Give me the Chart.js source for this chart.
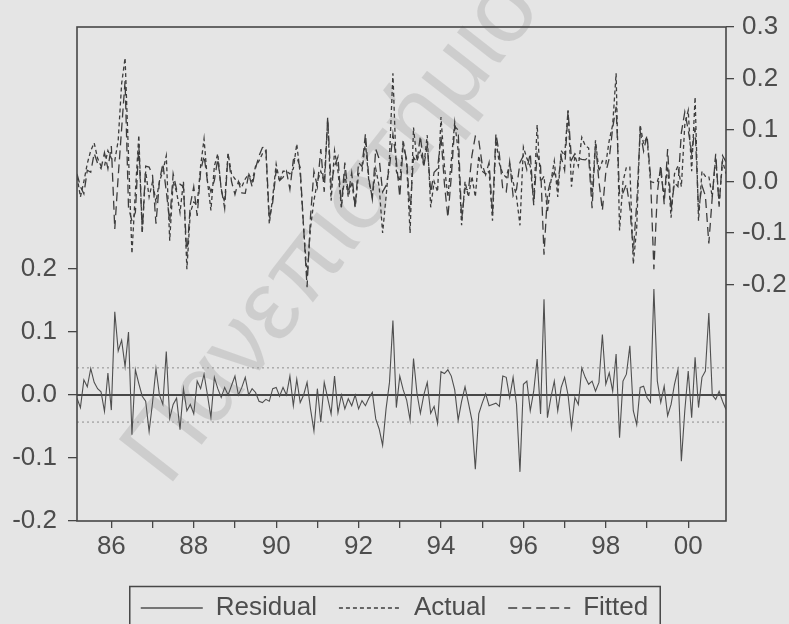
<!DOCTYPE html>
<html>
<head>
<meta charset="utf-8">
<script src="https://cdn.jsdelivr.net/npm/chart.js@4.4.1/dist/chart.umd.min.js"></script>
<style>
  html, body { margin: 0; padding: 0; background: #e5e5e5; }
  #wrap { width: 789px; height: 624px; position: relative; overflow: hidden; }
  canvas { display: block; }
</style>
</head>
<body>
<div id="wrap"><canvas id="chart" width="789" height="624"></canvas></div>
<script>
// Monthly sample 1985M03 - 2000M12
const startYear = 1985;
const startMonth = 3;

// Residual (left axis)
const residual = [
  -0.005, -0.020, 0.024, 0.013, 0.042, 0.020, 0.010, 0.005, -0.026, 0.035,
  -0.024, 0.132, 0.070, 0.087, 0.045, 0.100, -0.063, 0.040, 0.018, -0.002,
  -0.010, -0.058, -0.012, 0.042, 0.000, -0.015, 0.069, -0.037, -0.015, -0.005,
  -0.055, 0.010, -0.025, -0.015, -0.030, 0.022, 0.010, 0.033, 0.000, -0.036,
  0.028, 0.010, -0.004, 0.012, 0.000, 0.015, 0.030, 0.000, 0.012, 0.028,
  0.000, 0.010, 0.004, -0.010, -0.012, -0.007, -0.010, 0.010, 0.012, -0.002,
  0.012, 0.000, 0.030, -0.017, 0.025, -0.012, 0.000, 0.020, -0.022, -0.057,
  0.010, -0.043, 0.020, -0.005, -0.030, 0.030, -0.028, 0.000, -0.022, -0.006,
  -0.017, 0.000, -0.022, -0.009, -0.017, -0.005, 0.004, -0.038, -0.054, -0.080,
  -0.022, 0.020, 0.118, -0.020, 0.030, 0.008, -0.008, -0.040, 0.058, 0.003,
  -0.029, 0.000, 0.020, -0.029, -0.018, -0.045, 0.037, 0.034, 0.040, 0.030,
  0.008, -0.040, -0.010, 0.013, -0.013, -0.040, -0.118, -0.030, -0.013, 0.002,
  -0.017, -0.015, -0.013, -0.018, 0.030, 0.028, -0.004, 0.028, -0.015, -0.122,
  0.017, 0.022, -0.025, 0.006, 0.057, -0.030, 0.152, -0.036, -0.004, 0.022,
  -0.025, 0.012, 0.028, 0.000, -0.052, -0.004, -0.015, 0.043, 0.028, 0.017,
  0.022, 0.006, 0.020, 0.096, 0.017, 0.035, 0.006, 0.065, -0.068, 0.022,
  0.033, 0.078, -0.025, -0.047, 0.012, 0.014, -0.004, -0.012, 0.168, 0.022,
  -0.012, 0.014, -0.033, -0.015, 0.017, 0.040, -0.105, -0.025, 0.038, -0.036,
  0.060, -0.020, 0.028, 0.038, 0.130, 0.000, -0.007, 0.006, -0.010, -0.023
];

// Actual (right axis)
const actual = [
  0.010, -0.030, 0.000, 0.035, 0.060, 0.075, 0.045, 0.030, 0.030, 0.060,
  0.045, 0.040, 0.080, 0.190, 0.240, 0.050, -0.140, -0.020, 0.090, -0.100,
  0.020, -0.030, 0.000, -0.040, 0.000, 0.020, 0.050, -0.115, 0.000, -0.020,
  -0.060, 0.000, -0.170, -0.060, -0.040, -0.045, 0.030, 0.083, 0.000, -0.056,
  0.030, 0.054, -0.017, -0.040, 0.054, 0.015, 0.005, 0.000, -0.010, 0.005,
  0.015, 0.000, 0.030, 0.040, 0.054, 0.060, -0.082, -0.030, 0.034, 0.000,
  0.020, 0.020, 0.015, 0.025, 0.073, 0.015, -0.090, -0.185, -0.090, -0.037,
  0.000, 0.020, 0.000, 0.120, -0.037, 0.060, 0.020, -0.050, 0.015, -0.030,
  0.000, -0.050, 0.015, 0.020, 0.076, 0.000, -0.030, 0.025, -0.010, -0.100,
  -0.030, 0.047, 0.210, 0.020, 0.000, 0.080, 0.035, -0.100, 0.105, 0.040,
  0.060, 0.030, 0.090, -0.050, 0.000, -0.020, 0.125, 0.030, -0.030, 0.040,
  0.115, 0.060, -0.085, 0.000, -0.030, 0.010, -0.030, 0.050, 0.020, 0.015,
  0.020, -0.076, 0.080, 0.035, 0.015, 0.008, 0.034, 0.000, -0.030, -0.085,
  0.067, 0.045, 0.030, -0.040, 0.110, 0.000, 0.010, -0.060, 0.000, 0.040,
  -0.030, 0.060, 0.050, 0.138, -0.010, 0.050, 0.030, 0.086, 0.070, 0.065,
  -0.030, 0.080, 0.020, 0.040, 0.035, 0.080, 0.110, 0.210, -0.095, 0.000,
  0.028, 0.028, -0.160, -0.090, 0.110, 0.073, 0.086, 0.000, -0.002, 0.000,
  0.020, -0.030, 0.030, -0.070, 0.015, 0.030, -0.010, 0.110, 0.138, 0.020,
  0.164, -0.076, 0.020, 0.010, 0.010, -0.030, 0.047, -0.043, 0.040, 0.015
];

// Fitted (right axis)
const fitted = [
  0.015, -0.010, -0.024, 0.022, 0.018, 0.055, 0.035, 0.025, 0.056, 0.025,
  0.069, -0.092, 0.010, 0.103, 0.195, -0.050, -0.077, -0.060, 0.072, -0.098,
  0.030, 0.028, 0.012, -0.082, 0.000, 0.035, -0.019, -0.078, 0.015, -0.015,
  -0.005, -0.010, -0.145, -0.045, -0.010, -0.067, 0.020, 0.050, 0.000, -0.020,
  0.002, 0.044, -0.013, -0.052, 0.054, 0.000, -0.025, 0.000, -0.022, -0.023,
  0.015, -0.010, 0.026, 0.050, 0.066, 0.067, -0.072, -0.040, 0.022, 0.002,
  0.008, 0.020, -0.015, 0.042, 0.048, 0.027, -0.090, -0.205, -0.068, 0.020,
  -0.010, 0.063, -0.020, 0.125, -0.007, 0.030, 0.048, -0.050, 0.037, -0.024,
  0.017, -0.050, 0.037, 0.029, 0.093, 0.005, -0.034, 0.063, 0.044, -0.020,
  -0.008, 0.027, 0.092, 0.040, -0.030, 0.072, 0.043, -0.060, 0.047, 0.037,
  0.089, 0.030, 0.070, -0.021, 0.018, 0.025, 0.088, -0.004, -0.070, 0.010,
  0.107, 0.100, -0.075, -0.013, -0.017, 0.050, 0.088, 0.080, 0.033, 0.013,
  0.037, -0.061, 0.093, 0.053, -0.015, -0.020, 0.038, -0.028, -0.015, 0.037,
  0.050, 0.023, 0.055, -0.046, 0.053, 0.030, -0.142, -0.024, 0.004, 0.018,
  -0.005, 0.048, 0.022, 0.138, 0.042, 0.054, 0.045, 0.043, 0.042, 0.048,
  -0.052, 0.074, 0.000, -0.056, 0.018, 0.045, 0.104, 0.145, -0.027, -0.022,
  -0.005, -0.050, -0.135, -0.043, 0.098, 0.059, 0.090, 0.012, -0.170, -0.022,
  0.032, -0.044, 0.063, -0.055, -0.002, -0.010, 0.095, 0.135, 0.100, 0.056,
  0.104, -0.056, -0.008, -0.028, -0.120, -0.030, 0.054, -0.049, 0.050, 0.038
];

// Standard error band drawn around the residual zero line
const residualSE = 0.043;

// Axis ticks
const yearTicks  = [1986, 1987, 1988, 1989, 1990, 1991, 1992, 1993, 1994, 1995, 1996, 1997, 1998, 1999, 2000];
const yearLabels = ['86', '', '88', '', '90', '', '92', '', '94', '', '96', '', '98', '', '00'];
const leftTicks  = [-0.2, -0.1, 0.0, 0.1, 0.2];
const rightTicks = [-0.2, -0.1, 0.0, 0.1, 0.2, 0.3];

// ---- build the point lists on a decimal-year x axis ----
const toYear = i => startYear + (startMonth - 1 + i) / 12;
const asPoints = arr => arr.map((v, i) => ({ x: toYear(i), y: v }));
const xMin = toYear(0);
const xMax = toYear(residual.length - 1);
const flat = v => [{ x: xMin, y: v }, { x: xMax, y: v }];

const INK = '#474747';
const TEXT = '#4d4d4d';
const FONT = "'Liberation Sans', Arial, sans-serif";

const frame = {
  id: 'frame',
  afterLayout(chart) {
    // drop the legend row a little lower
    const lg = chart.legend;
    if (lg) { lg.top += 7; lg.bottom += 7; }
  },
  beforeDatasetsDraw(chart) {
    // faint diagonal stamp across the page
    const ctx = chart.ctx;
    ctx.save();
    ctx.translate(168, 488);
    ctx.rotate(-52 * Math.PI / 180);
    ctx.font = `100px ${FONT}`;
    ctx.fillStyle = 'rgba(0,0,0,0.10)';
    ctx.textBaseline = 'alphabetic';
    ctx.fillText('Πανεπιστήμιο', 0, 0);
    ctx.restore();
  },
  afterDatasetsDraw(chart) {
    const { ctx, chartArea: a } = chart;
    ctx.save();
    ctx.strokeStyle = INK;
    ctx.lineWidth = 1.6;
    ctx.strokeRect(a.left, a.top, a.right - a.left, a.bottom - a.top);
    ctx.restore();
  },
  afterDraw(chart) {
    const lg = chart.legend;
    if (!lg || !lg.legendHitBoxes || !lg.legendHitBoxes.length) return;
    const hb = lg.legendHitBoxes;
    const left = Math.min(...hb.map(h => h.left)) - 11;
    const right = Math.max(...hb.map(h => h.left + h.width)) + 12;
    const top = hb[0].top - 8.5;
    const ctx = chart.ctx;
    ctx.save();
    ctx.strokeStyle = INK;
    ctx.lineWidth = 1.5;
    ctx.strokeRect(left, top, right - left, 80);
    ctx.restore();
  }
};

new Chart(document.getElementById('chart'), {
  type: 'line',
  data: {
    datasets: [
      { label: 'Residual', data: asPoints(residual), yAxisID: 'yL',
        borderColor: '#4f4f4f', borderWidth: 1.1, pointRadius: 0, tension: 0 },
      { label: 'Actual', data: asPoints(actual), yAxisID: 'yR',
        borderColor: '#3d3d3d', borderWidth: 1.3, borderDash: [4, 3], pointRadius: 0, tension: 0 },
      { label: 'Fitted', data: asPoints(fitted), yAxisID: 'yR',
        borderColor: '#3d3d3d', borderWidth: 1.3, borderDash: [9, 5], pointRadius: 0, tension: 0 },
      { label: 'zero', data: flat(0), yAxisID: 'yL',
        borderColor: INK, borderWidth: 1.8, pointRadius: 0 },
      { label: '+se', data: flat(residualSE), yAxisID: 'yL',
        borderColor: '#8c8c8c', borderWidth: 1, borderDash: [2, 3], pointRadius: 0 },
      { label: '-se', data: flat(-residualSE), yAxisID: 'yL',
        borderColor: '#8c8c8c', borderWidth: 1, borderDash: [2, 3], pointRadius: 0 }
    ]
  },
  options: {
    responsive: false,
    animation: false,
    devicePixelRatio: 1,
    events: [],
    layout: { padding: { top: 27, left: 0, right: 0, bottom: 0 } },
    scales: {
      x: {
        type: 'linear',
        min: xMin,
        max: xMax,
        afterBuildTicks: s => { s.ticks = yearTicks.map(v => ({ value: v })); },
        afterFit: s => { s.height = 45; },
        ticks: {
          autoSkip: false, maxRotation: 0, padding: 3,
          color: TEXT, font: { family: FONT, size: 26 },
          callback: (v, i) => yearLabels[i]
        },
        grid: { drawOnChartArea: false, drawTicks: true, tickLength: 7, color: INK, lineWidth: 1.3 },
        border: { display: false }
      },
      yL: {
        type: 'linear',
        position: 'left',
        min: -0.2,
        max: 0.584,
        afterBuildTicks: s => { s.ticks = leftTicks.map(v => ({ value: v })); },
        afterFit: s => { s.width = 77; },
        ticks: {
          padding: 11, color: TEXT, font: { family: FONT, size: 26 },
          callback: v => Number(v).toFixed(1)
        },
        grid: { drawOnChartArea: false, drawTicks: true, tickLength: 9, color: INK, lineWidth: 1.3 },
        border: { display: false }
      },
      yR: {
        type: 'linear',
        position: 'right',
        min: -0.659,
        max: 0.3,
        afterBuildTicks: s => { s.ticks = rightTicks.map(v => ({ value: v })); },
        afterFit: s => { s.width = 63; },
        ticks: {
          padding: 8, color: TEXT, font: { family: FONT, size: 26 },
          callback: v => Number(v).toFixed(1)
        },
        grid: { drawOnChartArea: false, drawTicks: true, tickLength: 8, color: INK, lineWidth: 1.3 },
        border: { display: false }
      }
    },
    plugins: {
      tooltip: { enabled: false },
      legend: {
        position: 'bottom',
        labels: {
          usePointStyle: true,
          pointStyle: 'line',
          pointStyleWidth: 62,
          padding: 22,
          color: TEXT,
          font: { family: FONT, size: 26 },
          generateLabels: chart => {
            const base = Chart.defaults.plugins.legend.labels.generateLabels(chart);
            return base.filter(it => it.datasetIndex < 3).map(it => {
              const ds = chart.data.datasets[it.datasetIndex];
              return Object.assign(it, {
                pointStyle: 'line',
                strokeStyle: ds.borderColor,
                lineWidth: 1.4,
                lineDash: ds.borderDash || []
              });
            });
          }
        }
      }
    }
  },
  plugins: [frame]
});
</script>
</body>
</html>
